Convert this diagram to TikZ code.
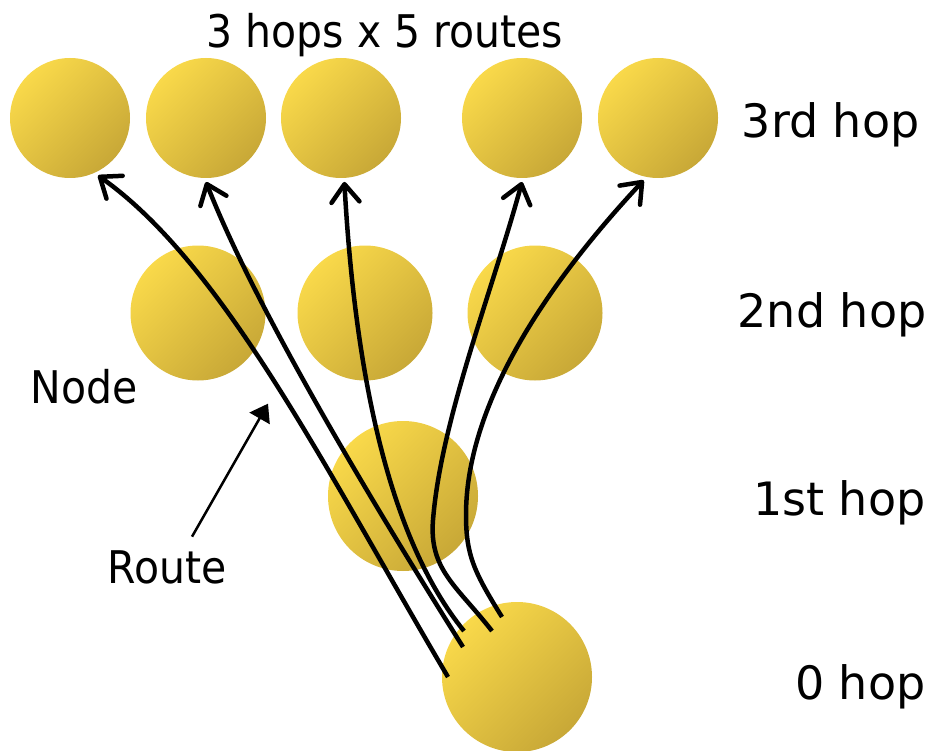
\documentclass[tikz,border=0pt]{standalone}
\usepackage{fontspec}
\setmainfont{DejaVu Sans}
\newfontfamily\narrowsans[FakeStretch=0.91]{DejaVu Sans}
\usetikzlibrary{arrows.meta,calc}

\definecolor{nodelight}{HTML}{F9D94A}
\definecolor{nodedark}{HTML}{C8A837}

\tikzset{
  peer/.style={circle, minimum size=#1, inner sep=0pt, draw=none,
    top color=nodelight, bottom color=nodedark, shading angle=45},
  route/.style={line width=4.5pt, -{Straight Barb[length=18pt,width=28pt,round]}},
  pointer/.style={line width=2.5pt, -{Triangle[length=17pt,width=23pt]}},
  hoplabel/.style={anchor=base east, font=\fontsize{46}{55}\selectfont},
  sidelabel/.style={anchor=base, font=\narrowsans\fontsize{45}{54}\selectfont},
}

\begin{document}
\begin{tikzpicture}[x=1pt,y=-1pt]
    \useasboundingbox (0,0) rectangle (941,751);

    % 3rd hop
    \node[peer=120pt, outer sep=4pt] (n31) at (70,118) {};
    \node[peer=120pt, outer sep=4pt] (n32) at (206,118) {};
    \node[peer=120pt, outer sep=4pt] (n33) at (341,118) {};
    \node[peer=120pt, outer sep=4pt] (n34) at (522,118) {};
    \node[peer=120pt, outer sep=4pt] (n35) at (658,118) {};

    % 2nd hop
    \node[peer=135pt] (n21) at (198,313) {};
    \node[peer=135pt] (n22) at (365,313) {};
    \node[peer=135pt] (n23) at (535,313) {};

    % 1st hop and source
    \node[peer=150pt] (n11) at (403,496) {};
    \node[peer=150pt] (n0) at (517,677) {};

    % route start points inside the source
    \coordinate (s1) at ($(n0)+(-69,0)$);
    \coordinate (s2) at ($(n0)+(-54,-30)$);
    \coordinate (s3) at ($(n0)+(-53,-46)$);
    \coordinate (s4) at ($(n0)+(-25,-46)$);
    \coordinate (s5) at ($(n0)+(-15,-60)$);

    % Routes
    \draw[route] (s1) .. controls +(-120,-203) and +(127,90) .. (n31.-64);
    \draw[route] (s2) .. controls +(-69,-110) and +(55,140) .. (n32.-90);
    \draw[route] (s3) .. controls +(-74,-91) and +(11,196) .. (n33.-87);
    \draw[route] (s4) .. controls +(-35,-45) and +(-4,50) .. (433,520)
        .. controls +(8,-100) and +(-30,110) .. (n34.-90);
    \draw[route] (s5) .. controls +(-28,-45) and +(0,40) .. (466,515)
        .. controls +(0,-100) and +(-112,120) .. (n35.-103);

    % Labels
    \node[sidelabel] (title) at (385,48) {3 hops x 5 routes};
    \node[sidelabel] (nodelbl) at (84,403) {Node};
    \node[sidelabel] (routelbl) at (167,583) {Route};
    \draw[pointer] ([xshift=25pt,yshift=10pt]routelbl.north) -- ++(76,-133);

    \node[hoplabel] (hop3) at (923,138) {3rd hop};
    \node[hoplabel] (hop2) at (930,327) {2nd hop};
    \node[hoplabel] (hop1) at (929,515) {1st hop};
    \node[hoplabel] (hop0) at (929,699) {0 hop};
  \end{tikzpicture}
\end{document}
